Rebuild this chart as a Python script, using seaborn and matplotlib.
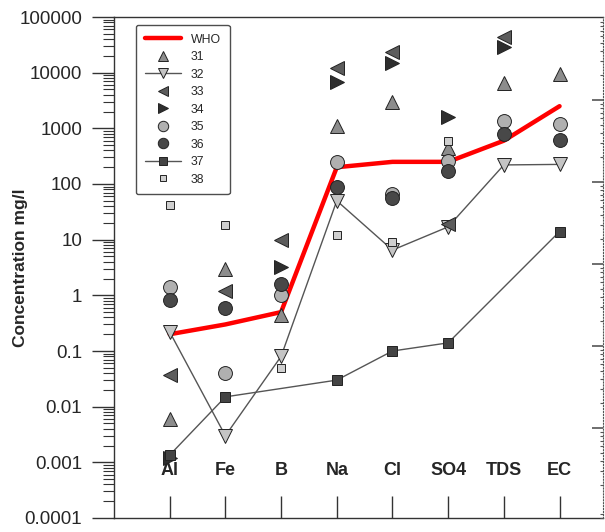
import numpy as np
import pandas as pd
import matplotlib
matplotlib.use("Agg")
import matplotlib.pyplot as plt
from matplotlib.ticker import FixedLocator, LogLocator, NullFormatter
import seaborn as sns

categories = ["Al", "Fe", "B", "Na", "Cl", "SO4", "TDS", "EC"]
nan = np.nan
who = [0.2, 0.3, 0.5, 200, 250, 250, 600, 2500]
s31 = [0.006, 3.0, 0.45, 1100, 3000, 450, 6400, 9500]
s32 = [0.22, 0.003, 0.08, 50, 6.5, 17, 220, 225]
s33 = [0.037, 1.2, 10, 12000, 23500, 19, 43000, nan]
s34 = [0.0012, nan, 3.2, 6800, 15000, 1600, 29000, nan]
s35 = [1.4, 0.04, 1.0, 250, 66, 260, 1380, 1180]
s36 = [0.82, 0.6, 1.6, 90, 55, 170, 790, 630]
s37 = [0.00135, 0.015, nan, 0.03, 0.1, 0.14, nan, 14]
s38 = [42, 18, 0.05, 12, 9, 600, nan, nan]
ytick_vals = [1e5, 1e4, 1e3, 1e2, 1e1, 1, 0.1, 0.01, 0.001, 0.0001]
ytick_labels = ["100000", "10000", "1000", "100", "10", "1", "0.1", "0.01", "0.001", "0.0001"]

sns.set_style("white")
plt.rcParams["font.family"] = ["Liberation Sans", "DejaVu Sans"]

fig = plt.figure(figsize=(6.05, 5.32), dpi=100)
ax = fig.add_axes([114/605, 14/532, 489/605, 501/532])

xpos = list(range(len(categories)))
df = pd.DataFrame({"x": xpos, "WHO": who, "31": s31, "32": s32, "33": s33,
                   "34": s34, "35": s35, "36": s36, "37": s37, "38": s38})

edge = "#222222"
sns.lineplot(data=df, x="x", y="WHO", ax=ax, color="#ff0000", lw=3.2, label="WHO", zorder=2)
styles = [
    ("31", "^", "#8c8c8c", 9.5, "none"),
    ("32", "v", "#c4c4c4", 10, "-"),
    ("33", "<", "#5c5c5c", 9.5, "none"),
    ("34", ">", "#2e2e2e", 9.5, "none"),
    ("35", "o", "#b0b0b0", 10, "none"),
    ("36", "o", "#484848", 10, "none"),
    ("37", "s", "#444444", 7, "-"),
    ("38", "s", "#cfcfcf", 6, "none"),
]
for i, (name, mk, fc, ms, ls) in enumerate(styles):
    sns.lineplot(data=df, x="x", y=name, ax=ax, marker=mk, markersize=ms,
                 markerfacecolor=fc, markeredgecolor=edge, markeredgewidth=0.7,
                 color="#555555", lw=1.0, linestyle=ls, label=name, zorder=3 + i)

ax.set_yscale("log")
ax.set_ylim(1e-4, 1e5)
ax.set_xlim(-1.0, 7.78)
ax.yaxis.set_major_locator(FixedLocator(ytick_vals))
ax.set_yticklabels(ytick_labels)
ax.yaxis.set_minor_locator(LogLocator(base=10, subs=np.arange(2, 10)))
ax.yaxis.set_minor_formatter(NullFormatter())
ax.set_xticks(xpos)
ax.set_xticklabels([])
ax.set_xlabel("")
ax.set_ylabel("Concentration mg/l", fontsize=12.5, fontweight="bold", labelpad=-6)
ax.tick_params(axis="y", which="major", direction="out", length=16, width=1,
               color="#333333", labelsize=13.5, pad=7, left=True)
ax.tick_params(axis="y", which="minor", direction="out", length=8, width=0.8,
               color="#333333", left=True)
ax.tick_params(axis="x", which="major", direction="in", length=16, width=1,
               color="#333333", bottom=True, top=False)
for s in ["left", "bottom", "top"]:
    ax.spines[s].set_visible(True)
    ax.spines[s].set_color("#333333")
    ax.spines[s].set_linewidth(1.0)
ax.spines["right"].set_visible(False)

for xp, cat in zip(xpos, categories):
    ax.text(xp, 0.094, cat, transform=ax.get_xaxis_transform(), ha="center",
            va="center", fontsize=13, fontweight="bold", zorder=1)

leg = ax.legend(loc="upper left", bbox_to_anchor=(0.045, 0.984), borderaxespad=0,
                fontsize=8.8, frameon=True, fancybox=True, handlelength=3.0,
                labelspacing=0.45, handletextpad=0.8, borderpad=0.7, markerscale=0.75)
leg.get_frame().set_edgecolor("#222222")
leg.get_frame().set_linewidth(1.0)

ax2 = ax.twinx()
ax2.set_yscale("log")
ax2.set_ylim(10 ** (-0.098), 10 ** 6.012)
ax2.yaxis.set_major_locator(FixedLocator([1e1, 1e2, 1e3, 1e4, 1e5]))
ax2.yaxis.set_minor_locator(LogLocator(base=10, subs=np.arange(2, 10)))
ax2.yaxis.set_major_formatter(NullFormatter())
ax2.yaxis.set_minor_formatter(NullFormatter())
ax2.tick_params(axis="y", which="major", direction="in", length=8, width=1.2,
                color="#555555", right=True)
ax2.tick_params(axis="y", which="minor", direction="in", length=2, width=0.8,
                color="#555555", right=True)
for s in ["left", "bottom", "top"]:
    ax2.spines[s].set_visible(False)
ax2.spines["right"].set_linestyle(":")
ax2.spines["right"].set_color("#555555")

fig.savefig("out.png", dpi=100)
